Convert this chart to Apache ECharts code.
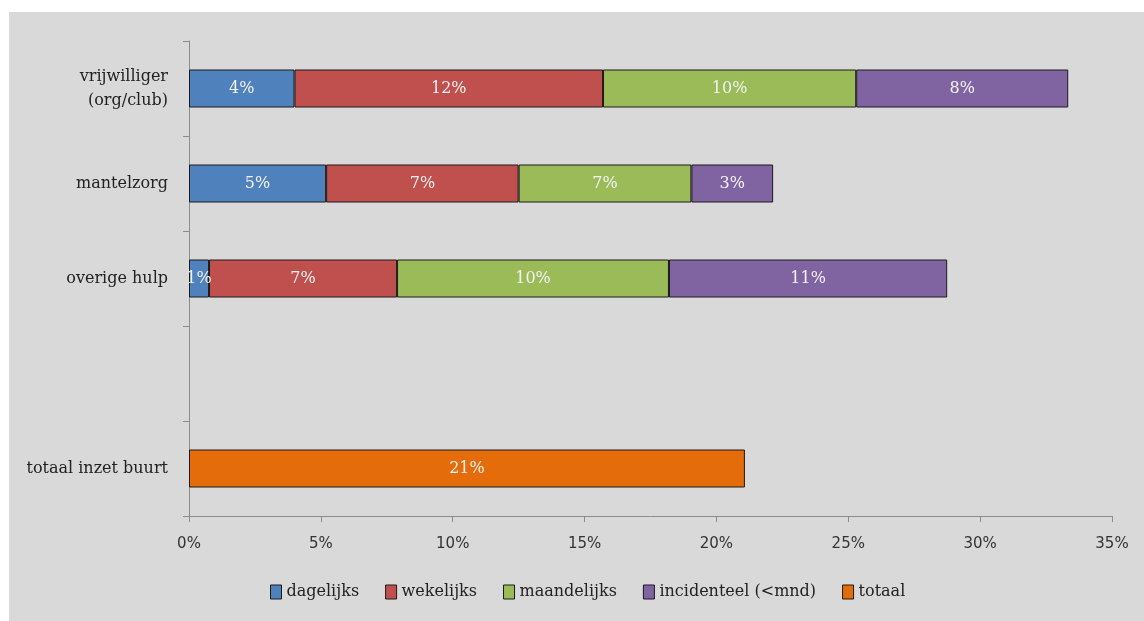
<!DOCTYPE html>
<html><head><meta charset="utf-8">
<script src="https://cdn.jsdelivr.net/npm/echarts@6/dist/echarts.min.js"></script>
<style>html,body{margin:0;padding:0;background:#fff;}#c{position:absolute;left:9px;top:12px;width:1135px;height:609px;}</style>
</head><body><div id="c"></div>
<script>
const categories = ['vrijwilliger\n(org/club)', 'mantelzorg', 'overige hulp', '', 'totaal inzet buurt'];
const dagelijks = [4.0, 5.2, 0.76, '-', '-'];
const wekelijks = [11.7, 7.3, 7.13, '-', '-'];
const maandelijks = [9.6, 6.55, 10.31, '-', '-'];
const incidenteel = [8.04, 3.1, 10.55, '-', '-'];
const totaal = ['-', '-', '-', '-', 21.08];
const xTicks = [0, 5, 10, 15, 20, 25, 30, 35];

const serif = 'DejaVu Serif';
function s(name, data, color) {
  return {
    name: name, type: 'bar', stack: 'a', data: data, barCategoryGap: '60%',
    itemStyle: { color: color, borderColor: '#1a1a1a', borderWidth: 1 },
    label: { show: true, position: 'inside', color: '#f2f2f2', fontFamily: serif, fontSize: 16,
      formatter: p => Math.round(p.value) + '%' }
  };
}
const chart = echarts.init(document.getElementById('c'));
chart.setOption({
  backgroundColor: '#d9d9d9',
  animation: false,
  grid: { left: 180, right: 32, top: 29, bottom: 105, containLabel: false },
  xAxis: {
    type: 'value', min: xTicks[0], max: xTicks[xTicks.length - 1], interval: 5,
    axisLine: { show: true, lineStyle: { color: '#8c8c8c' } },
    axisTick: { show: true, length: 6, lineStyle: { color: '#8c8c8c' } },
    splitLine: { show: false },
    axisLabel: { color: '#333', fontFamily: 'DejaVu Sans', fontSize: 15, margin: 21, formatter: v => v + '%' }
  },
  yAxis: {
    type: 'category', data: categories, inverse: true,
    axisLine: { show: true, lineStyle: { color: '#8c8c8c' } },
    axisTick: { show: true, length: 6, lineStyle: { color: '#8c8c8c' } },
    axisLabel: { color: '#222', fontFamily: serif, fontSize: 16, margin: 21, lineHeight: 24, align: 'right' }
  },
  legend: {
    bottom: 16, left: 256, itemWidth: 11, itemHeight: 14, itemGap: 26,
    icon: 'rect',
    itemStyle: { borderColor: '#1a1a1a', borderWidth: 1 },
    textStyle: { color: '#222', fontFamily: serif, fontSize: 16 },
    data: ['dagelijks', 'wekelijks', 'maandelijks', 'incidenteel (<mnd)', 'totaal']
  },
  series: [
    s('dagelijks', dagelijks, '#4f81bd'),
    s('wekelijks', wekelijks, '#c0504d'),
    s('maandelijks', maandelijks, '#9bbb59'),
    s('incidenteel (<mnd)', incidenteel, '#8064a2'),
    s('totaal', totaal, '#e46c0a')
  ]
});
</script></body></html>
